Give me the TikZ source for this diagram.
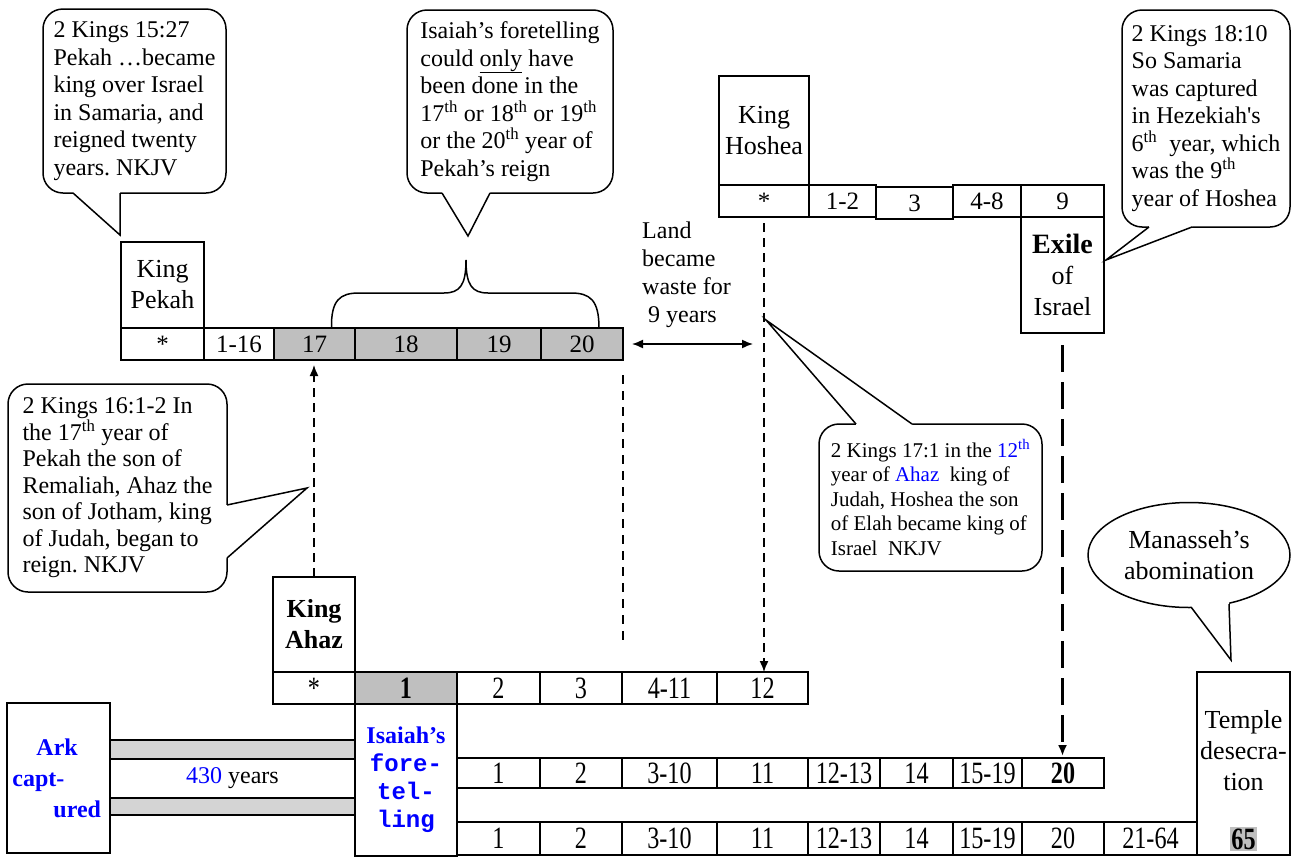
\documentclass[tikz,border=0pt]{standalone}
\usepackage{fontspec}
\setmainfont{Liberation Serif}
\setmonofont{Liberation Mono}
\newfontfamily\narrowfont[FakeStretch=0.78]{Liberation Serif}
\usetikzlibrary{positioning, arrows.meta, shapes.geometric}
\frenchspacing

\begin{document}
\begin{tikzpicture}[
    x=1pt, y=-1pt,
    >={Latex[length=11pt,width=9pt]},
    cell/.style={draw, line width=1.5pt, inner sep=0pt, outer sep=0pt, minimum height=32pt, font=\fontsize{25}{28}\selectfont},
    lowcell/.style={cell, font=\narrowfont\fontsize{31}{31}\selectfont},
    king/.style={cell, align=center, font=\fontsize{26}{31}\selectfont},
    note/.style={draw, line width=1.5pt, rounded corners=20pt, inner sep=0pt, align=left, font=\fontsize{24}{27.5}\selectfont},
    tail/.style={line width=1.5pt, line join=miter},
    shade/.style={fill=black!25},
    dots/.style={fill=black!17},
    dasharrow/.style={->, line width=1.5pt, dash pattern=on 9pt off 6pt},
    bigdash/.style={->, line width=3pt, dash pattern=on 27pt off 10pt}
]
    \useasboundingbox (0,0) rectangle (1291,857);

    % Pekah
    \node[king, minimum width=83pt, minimum height=86pt, anchor=north west] (pekah) at (121,242) {King\\Pekah};
    \node[cell, minimum width=83pt, below=0pt of pekah] (pk0) {*};
    \node[cell, minimum width=70pt, right=0pt of pk0] (pk16) {1-16};
    \node[cell, shade, minimum width=81pt, right=0pt of pk16] (pk17) {17};
    \node[cell, shade, minimum width=102pt, right=0pt of pk17] (pk18) {18};
    \node[cell, shade, minimum width=84pt, right=0pt of pk18] (pk19) {19};
    \node[cell, shade, minimum width=82pt, right=0pt of pk19] (pk20) {20};

    \draw[line width=1.5pt] (pk17.north) ++(17,0) .. controls (331,300) and (340,293) .. (359,293) -- (444,293)
        .. controls (460,293) and (466,285) .. (466,260) .. controls (466,285) and (472,293) .. (488,293)
        -- (571,293) .. controls (590,293) and (599,300) .. (599,328);

    % Hoshea
    \node[king, minimum width=90pt, minimum height=109pt, anchor=north west] (hoshea) at (719,76) {King\\Hoshea};
    \node[cell, minimum width=90pt, below=0pt of hoshea] (ho0) {*};
    \node[cell, minimum width=67pt, right=0pt of ho0] (ho2) {1-2};
    \node[cell, minimum width=77pt, right=0pt of ho2, yshift=-2pt] (ho3) {3};
    \node[cell, minimum width=68pt, right=0pt of ho3, yshift=2pt] (ho8) {4-8};
    \node[cell, minimum width=83pt, right=0pt of ho8] (ho9) {9};
    \node[king, minimum width=83pt, minimum height=116pt, below=0pt of ho9] (exile) {{\bfseries\fontsize{28}{31}\selectfont Exile}\\of\\Israel};

    % Ahaz
    \node[king, minimum width=82pt, minimum height=95pt, anchor=north west, font=\bfseries\fontsize{26}{31}\selectfont] (ahaz) at (273,577) {King\\Ahaz};
    \node[lowcell, minimum width=82pt, below=0pt of ahaz] (ah0) {*};
    \node[lowcell, shade, minimum width=102pt, right=0pt of ah0, font=\narrowfont\bfseries\fontsize{31}{31}\selectfont] (ah1) {1};
    \node[lowcell, minimum width=83pt, right=0pt of ah1] (ah2) {2};
    \node[lowcell, minimum width=82pt, right=0pt of ah2] (ah3) {3};
    \node[lowcell, minimum width=95pt, right=0pt of ah3] (ah11) {4-11};
    \node[lowcell, minimum width=91pt, right=0pt of ah11] (ah12) {12};

    \node[cell, minimum width=102pt, minimum height=152pt, below=0pt of ah1, align=center, text=blue, font=\bfseries\fontsize{24}{28}\selectfont] (isaiah) {Isaiah’s\\\texttt{fore-}\\\texttt{tel-}\\\texttt{ling}};

    % Ark and the 430 years
    \node[cell, minimum width=103pt, minimum height=150pt, anchor=north west, text=blue, align=left, text width=92pt, font=\bfseries\fontsize{24}{31}\selectfont] (ark) at (7,703) {\hspace*{24pt}Ark\\capt-\\\hspace*{41pt}ured};
    \node[cell, dots, minimum width=245pt, minimum height=19pt, anchor=north west] (bar1) at (110,740) {};
    \node[cell, minimum width=245pt, minimum height=39pt, below=0pt of bar1, font=\fontsize{24}{28}\selectfont] (span) {\textcolor{blue}{430} years};
    \node[cell, dots, minimum width=245pt, minimum height=17pt, below=0pt of span] (bar2) {};

    % Hezekiah rows
    \node[lowcell, minimum width=83pt, minimum height=30pt, anchor=north west] (r1) at (457,758) {1};
    \node[lowcell, minimum width=82pt, minimum height=30pt, right=0pt of r1] (r2) {2};
    \node[lowcell, minimum width=95pt, minimum height=30pt, right=0pt of r2] (r10) {3-10};
    \node[lowcell, minimum width=91pt, minimum height=30pt, right=0pt of r10] (r11) {11};
    \node[lowcell, minimum width=72pt, minimum height=30pt, right=0pt of r11] (r13) {12-13};
    \node[lowcell, minimum width=73pt, minimum height=30pt, right=0pt of r13] (r14) {14};
    \node[lowcell, minimum width=69pt, minimum height=30pt, right=0pt of r14] (r19) {15-19};
    \node[lowcell, minimum width=82pt, minimum height=30pt, right=0pt of r19, font=\narrowfont\bfseries\fontsize{31}{31}\selectfont] (r20) {20};

    \node[lowcell, minimum width=83pt, minimum height=33pt, anchor=north west] (s1) at (457,822) {1};
    \node[lowcell, minimum width=82pt, minimum height=33pt, right=0pt of s1] (s2) {2};
    \node[lowcell, minimum width=95pt, minimum height=33pt, right=0pt of s2] (s10) {3-10};
    \node[lowcell, minimum width=91pt, minimum height=33pt, right=0pt of s10] (s11) {11};
    \node[lowcell, minimum width=72pt, minimum height=33pt, right=0pt of s11] (s13) {12-13};
    \node[lowcell, minimum width=73pt, minimum height=33pt, right=0pt of s13] (s14) {14};
    \node[lowcell, minimum width=69pt, minimum height=33pt, right=0pt of s14] (s19) {15-19};
    \node[lowcell, minimum width=82pt, minimum height=33pt, right=0pt of s19] (s20) {20};
    \node[lowcell, minimum width=93pt, minimum height=33pt, right=0pt of s20] (s64) {21-64};

    \node[cell, minimum width=93pt, minimum height=183pt, anchor=north west] (temple) at (1197,672) {};
    \node[align=center, font=\fontsize{26}{31}\selectfont] (templetxt) at (1243.5,751) {Temple\\desecra-\\tion};
    \node[fill=black!25, inner sep=1.5pt, font=\narrowfont\bfseries\fontsize{31}{31}\selectfont] (y65) at (1243.5,839) {65};

    % connectors
    \draw[dasharrow, shorten >=5pt] (ahaz.north) -- (ahaz.north |- pk17.south);
    \draw[dasharrow, shorten <=6pt] (ho0.south) -- (ho0.south |- ah12.north);
    \draw[bigdash, shorten <=12pt, shorten >=2pt] (exile.south) -- (exile.south |- r20.north);
    \draw[<->, line width=1.5pt, shorten <=9pt, shorten >=11pt] (pk20.east) -- (pk20.east -| ho0.south);
    \draw[line width=1.3pt, dash pattern=on 9pt off 7pt, shorten <=15pt, shorten >=32pt] (pk20.south east) -- (pk20.south east |- ah3.north east);

    \node[anchor=north west, inner sep=0pt, align=left, font=\fontsize{24}{28}\selectfont] (waste) at (642,222) {Land\\became\\waste for\\\hspace*{6pt}9 years};

    % notes
    \node[note, minimum width=183pt, minimum height=184pt] (pknote) at (134.5,101)
        {2 Kings 15:27\\Pekah …became\\king over Israel\\in Samaria, and\\reigned twenty\\years. NKJV};
    \fill[white] (73,189) -- (73,193) -- (120,235) -- (120,193) -- (120,189) -- cycle;
    \draw[tail] (73,193) -- (120,235) -- (120,193);

    \node[note, minimum width=206pt, minimum height=183pt] (isnote) at (510,101.5)
        {Isaiah’s foretelling\\could \underline{only} have\\been done in the\\17\textsuperscript{th} or 18\textsuperscript{th} or 19\textsuperscript{th}\\or the 20\textsuperscript{th} year of\\Pekah’s reign};
    \fill[white] (442,189) -- (442,193) -- (468,236) -- (490,193) -- (490,189) -- cycle;
    \draw[tail] (442,193) -- (468,236) -- (490,193);

    \node[note, minimum width=219pt, minimum height=208pt, font=\fontsize{24}{26.5}\selectfont] (ahnote) at (117.5,488)
        {2 Kings 16:1-2 In\\the 17\textsuperscript{th} year of\\Pekah the son of\\Remaliah, Ahaz the\\son of Jotham, king\\of Judah, began to\\reign. NKJV};
    \fill[white] (223,505) -- (227,505) -- (307,488) -- (227,558) -- (223,558) -- cycle;
    \draw[tail] (227,505) -- (307,488) -- (227,558);

    \node[note, minimum width=168pt, minimum height=217pt] (exnote) at (1206,118.5)
        {2 Kings 18:10\\So Samaria\\was captured\\in Hezekiah\textquotesingle s\\6\textsuperscript{th}\ \ year, which\\was the 9\textsuperscript{th}\\year of Hoshea};
    \fill[white] (1149,223) -- (1149,227) -- (1106,260) -- (1192,227) -- (1192,223) -- cycle;
    \draw[tail] (1149,227) -- (1106,260) -- (1192,227);

    \node[note, minimum width=223pt, minimum height=147pt, font=\fontsize{21}{24.5}\selectfont] (honote) at (930.5,497.5)
        {2 Kings 17:1 in the \textcolor{blue}{12\textsuperscript{th}}\\year of \textcolor{blue}{Ahaz}\ \ king of\\Judah, Hoshea the son\\of Elah became king of\\Israel\ \ NKJV};
    \fill[white] (856,428) -- (856,424) -- (766,320) -- (912,424) -- (912,428) -- cycle;
    \draw[tail] (856,424) -- (766,320) -- (912,424);

    \node[draw, ellipse, line width=1.5pt, inner sep=0pt, minimum width=202pt, minimum height=105pt, align=center, font=\fontsize{26}{31}\selectfont] (manasseh) at (1189,555)
        {Manasseh’s\\abomination};
    \fill[white] (1191,600) -- (1191,607) -- (1231,660) -- (1229,604) -- (1229,597) -- cycle;
    \draw[tail] (1191,607) -- (1231,660) -- (1229,604);
\end{tikzpicture}
\end{document}
